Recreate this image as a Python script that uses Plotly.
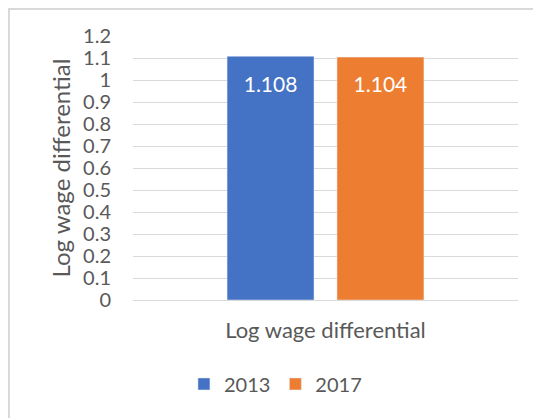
import plotly.graph_objects as go

# data
categories = ["Log wage differential"]
years = ["2013", "2017"]
values_2013 = [1.108]
values_2017 = [1.104]
colors = ["#4472C4", "#ED7D31"]

# the page puts the figure 8px in from the top/left corner
W, H = 541, 418
L, R, T, B = 125, 31, 28, 126

fig = go.Figure()
for name, vals, col in zip(years, [values_2013, values_2017], colors):
    fig.add_trace(go.Bar(
        x=categories, y=vals, name=name, marker_color=col,
        text=[f"<span style='font-size:5px'> </span><br>{v:.3f}" for v in vals],
        textposition="inside", insidetextanchor="end", textangle=0,
        textfont=dict(color="white", size=21, family="Lato"),
    ))

# chart border (only top/left visible in the crop)
pw, ph = W - L - R, H - T - B
fig.add_shape(type="rect", xref="paper", yref="paper",
              x0=(1 - L) / pw, x1=(W + 40 - L) / pw,
              y0=(H - B - (H + 40)) / ph, y1=(H - B - 1) / ph,
              line=dict(color="#d9d9d9", width=2), layer="below")

fig.update_layout(
    width=W, height=H,
    margin=dict(l=L, r=R, t=T, b=B),
    barmode="group", bargap=0.429, bargroupgap=0.209,
    paper_bgcolor="white", plot_bgcolor="white",
    font=dict(family="Lato", color="#595959", size=20),
    showlegend=True,
    legend=dict(orientation="h", x=0.37, xanchor="center", y=-0.318, yanchor="middle",
                font=dict(size=20), itemwidth=30, traceorder="normal"),
    uniformtext=dict(mode="show", minsize=4),
)
fig.update_yaxes(range=[0, 1.2], dtick=0.1, tickformat="~g",
                 showgrid=True, gridcolor="#d9d9d9", gridwidth=1,
                 zeroline=True, zerolinecolor="#d9d9d9", zerolinewidth=1,
                 showline=False, ticks="", ticklabelstandoff=21,
                 title=dict(text="Log wage differential", font=dict(size=24), standoff=5))
fig.update_xaxes(showline=False, ticks="", tickfont=dict(size=22), ticklabelstandoff=15)

fig.write_html("out.html")
